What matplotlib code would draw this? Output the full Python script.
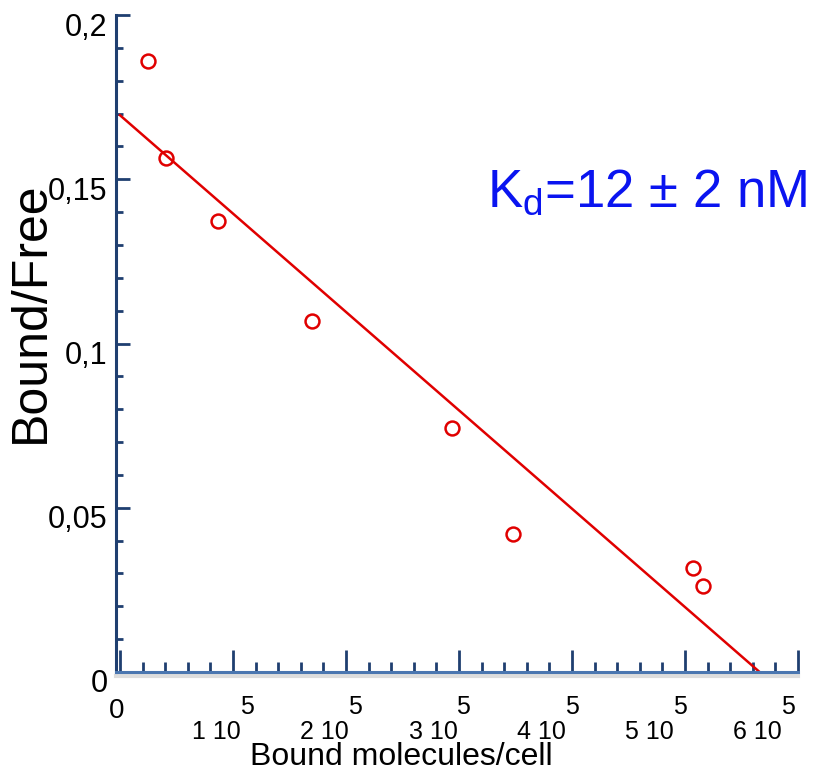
import numpy as np
import matplotlib
matplotlib.use('Agg')
import matplotlib.pyplot as plt
import matplotlib.transforms as mtransforms
from matplotlib.ticker import MultipleLocator

plt.rcParams['font.family'] = ['Liberation Sans', 'DejaVu Sans']
plt.rcParams['mathtext.fontset'] = 'custom'
plt.rcParams['mathtext.rm'] = 'Liberation Sans'
plt.rcParams['mathtext.it'] = 'Liberation Sans'

# Scatchard data (bound molecules/cell vs bound/free)
bound = [24800, 40700, 86700, 169900, 293800, 347800, 507000, 515900]
bound_free = [0.186, 0.1564, 0.1372, 0.107, 0.0744, 0.0421, 0.0317, 0.0262]
# fitted line end points
fit_x = [0, 566000]
fit_y = [0.1695, 0.0]

y_ticks = [0, 0.05, 0.1, 0.15, 0.2]
y_labels = ['0', '0,05', '0,1', '0,15', '0,2']
x_ticks = [100000, 200000, 300000, 400000, 500000, 600000]

red = '#E00000'
navy = '#1F3F70'
light_blue = '#4A76B0'

fig = plt.figure(figsize=(8.14, 7.74), dpi=100)
ax = fig.add_axes([116 / 814, (774 - 672) / 774, (798 - 116) / 814, (672 - 15) / 774])

ax.plot(fit_x, fit_y, color=red, lw=1.8, zorder=2)
ax.plot(bound, bound_free, 'o', mfc='none', mec=red, mew=1.8, ms=10, zorder=3)

ax.set_xlim(-3500, 600000)
ax.set_ylim(0, 0.2)

for s in ['top', 'right']:
    ax.spines[s].set_visible(False)
ax.spines['left'].set_color(navy)
ax.spines['left'].set_linewidth(2.2)
ax.spines['bottom'].set_color(light_blue)
ax.spines['bottom'].set_linewidth(2.2)

# shadow under the bottom axis
ax.plot([0, 1], [0, 0], transform=ax.transAxes + mtransforms.ScaledTranslation(0, -4 / 100, fig.dpi_scale_trans),
        color='#DDDDDD', lw=3, clip_on=False, zorder=0)

ax.set_yticks(y_ticks)
ax.set_yticklabels(y_labels, fontsize=22)
ax.yaxis.set_minor_locator(MultipleLocator(0.01))
ax.tick_params(axis='y', which='major', direction='in', length=10, width=2, color=navy, pad=6)
ax.tick_params(axis='y', which='minor', direction='in', length=5, width=2, color=navy)
for lab in ax.get_yticklabels():
    lab.set_transform(lab.get_transform() + mtransforms.ScaledTranslation(0, -9 / 100, fig.dpi_scale_trans))

ax.set_xticks([0] + x_ticks)
ax.set_xticklabels([])
ax.xaxis.set_minor_locator(MultipleLocator(20000))
ax.tick_params(axis='x', which='major', direction='in', length=16, width=2, color=navy)
ax.tick_params(axis='x', which='minor', direction='in', length=7, width=2, color=navy)

# x tick labels written as "n 10" with a raised "5"
ax.annotate('0', xy=(0, 0), xycoords=('data', 'axes fraction'), xytext=(-3, -39),
            textcoords='offset pixels', ha='center', va='center', fontsize=20)
for i, v in enumerate(x_ticks):
    dx = 14 - 4.8 * i
    ax.annotate('%d 10' % (i + 1), xy=(v, 0), xycoords=('data', 'axes fraction'),
                xytext=(dx - 6, -60), textcoords='offset pixels', ha='right', va='center', fontsize=18)
    ax.annotate('5', xy=(v, 0), xycoords=('data', 'axes fraction'),
                xytext=(dx, -35), textcoords='offset pixels', ha='center', va='center', fontsize=18)

fig.text(401 / 814, 1 - 757 / 774, 'Bound molecules/cell', ha='center', va='center', fontsize=23)
fig.text(31 / 814, 1 - 312 / 774, 'Bound/Free', ha='center', va='center', rotation=90, fontsize=36)

fig.text(487 / 814, 1 - 207 / 774, r'$\mathrm{K_d}$=12 ± 2 nM', ha='left', va='baseline',
         fontsize=38, color='#0A14F0')

fig.savefig('out.png', dpi=100)
